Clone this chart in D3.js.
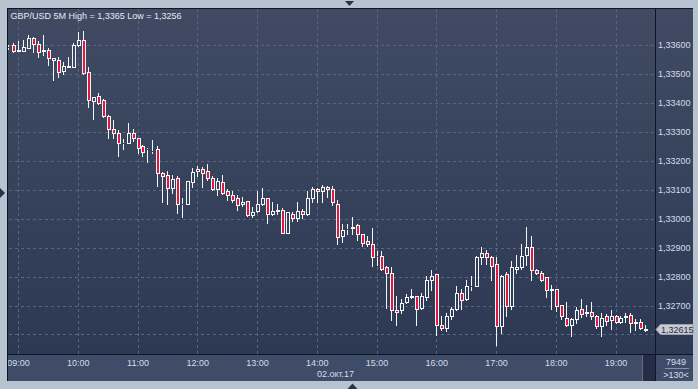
<!DOCTYPE html>
<html>
<head>
<meta charset="utf-8">
<script src="https://cdn.jsdelivr.net/npm/d3@7"></script>
<style>
  html, body { margin: 0; padding: 0; background: #b8c3d2; }
  svg { display: block; font-family: "Liberation Sans", Arial, sans-serif; }
</style>
</head>
<body>
<div id="chart"></div>
<script>
const TITLE = "GBP/USD 5M High = 1,3365 Low = 1,3256";
const BAR_START = "2017-10-02T08:50:00";
const BAR_MINUTES = 5;

// OHLC of the 5 minute bars
const OPEN = [
  1.33592,1.33599,1.33580,1.33580,1.33589,1.33623,1.33603,1.33578,1.33583,1.33554,
  1.33548,1.33511,1.33525,1.33525,1.33600,1.33617,1.33508,1.33408,1.33424,1.33410,
  1.33355,1.33309,1.33295,1.33261,1.33263,1.33297,1.33278,1.33252,1.33239,1.33233,
  1.33240,1.33159,1.33151,1.33106,1.33140,1.33050,1.33051,1.33128,1.33163,1.33171,
  1.33165,1.33140,1.33102,1.33126,1.33096,1.33081,1.33071,1.33051,1.33062,1.33012,
  1.33025,1.33050,1.33071,1.33016,1.33027,1.33031,1.32950,1.33016,1.33004,1.33027,
  1.33016,1.33071,1.33102,1.33094,1.33109,1.33102,1.33050,1.32939,1.32963,1.32968,
  1.32979,1.32947,1.32924,1.32912,1.32870,1.32872,1.32833,1.32812,1.32686,1.32686,
  1.32711,1.32730,1.32732,1.32692,1.32730,1.32789,1.32809,1.32634,1.32623,1.32665,
  1.32688,1.32743,1.32721,1.32766,1.32769,1.32868,1.32881,1.32868,1.32843,1.32628,
  1.32809,1.32700,1.32826,1.32833,1.32875,1.32902,1.32824,1.32812,1.32799,1.32755,
  1.32757,1.32701,1.32657,1.32631,1.32654,1.32688,1.32674,1.32676,1.32663,1.32628,
  1.32663,1.32651,1.32663,1.32642,1.32661,1.32667,1.32640,1.32642,1.32620
];
const HIGH = [
  1.33600,1.33606,1.33614,1.33617,1.33635,1.33629,1.33615,1.33635,1.33589,1.33555,
  1.33558,1.33542,1.33560,1.33606,1.33645,1.33650,1.33525,1.33421,1.33434,1.33412,
  1.33358,1.33341,1.33307,1.33275,1.33330,1.33310,1.33280,1.33253,1.33244,1.33272,
  1.33252,1.33160,1.33165,1.33150,1.33148,1.33071,1.33131,1.33175,1.33183,1.33180,
  1.33188,1.33146,1.33142,1.33151,1.33103,1.33096,1.33082,1.33076,1.33062,1.33040,
  1.33096,1.33106,1.33072,1.33059,1.33051,1.33037,1.33024,1.33022,1.33058,1.33032,
  1.33094,1.33111,1.33107,1.33115,1.33112,1.33112,1.33065,1.32982,1.32982,1.33006,
  1.32982,1.32948,1.32941,1.32968,1.32890,1.32890,1.32835,1.32833,1.32732,1.32723,
  1.32741,1.32757,1.32734,1.32743,1.32803,1.32824,1.32810,1.32663,1.32674,1.32695,
  1.32769,1.32757,1.32789,1.32803,1.32870,1.32902,1.32893,1.32872,1.32868,1.32804,
  1.32815,1.32855,1.32875,1.32913,1.32970,1.32941,1.32826,1.32818,1.32800,1.32772,
  1.32758,1.32702,1.32712,1.32657,1.32695,1.32723,1.32703,1.32711,1.32668,1.32674,
  1.32672,1.32686,1.32668,1.32663,1.32674,1.32674,1.32654,1.32655,1.32634
];
const LOW = [
  1.33586,1.33576,1.33579,1.33579,1.33588,1.33577,1.33558,1.33565,1.33531,1.33479,
  1.33491,1.33500,1.33523,1.33524,1.33597,1.33501,1.33387,1.33343,1.33396,1.33351,
  1.33278,1.33278,1.33217,1.33240,1.33261,1.33270,1.33228,1.33215,1.33197,1.33228,
  1.33114,1.33056,1.33050,1.33090,1.33021,1.33006,1.33050,1.33109,1.33146,1.33109,
  1.33134,1.33100,1.33082,1.33085,1.33065,1.33056,1.33031,1.33045,1.33010,1.33006,
  1.33022,1.33048,1.32985,1.33013,1.33015,1.32949,1.32949,1.32993,1.32992,1.33002,
  1.33014,1.33059,1.33059,1.33059,1.33076,1.33048,1.32913,1.32921,1.32948,1.32948,
  1.32925,1.32904,1.32904,1.32835,1.32841,1.32824,1.32692,1.32651,1.32632,1.32674,
  1.32709,1.32726,1.32632,1.32688,1.32720,1.32755,1.32597,1.32617,1.32611,1.32654,
  1.32686,1.32688,1.32718,1.32755,1.32766,1.32844,1.32844,1.32787,1.32562,1.32605,
  1.32665,1.32688,1.32814,1.32826,1.32841,1.32789,1.32810,1.32783,1.32730,1.32688,
  1.32680,1.32654,1.32629,1.32594,1.32640,1.32661,1.32663,1.32654,1.32623,1.32596,
  1.32631,1.32619,1.32640,1.32640,1.32642,1.32607,1.32617,1.32619,1.32611
];
const CLOSE = [
  1.33592,1.33580,1.33583,1.33592,1.33623,1.33603,1.33577,1.33583,1.33554,1.33547,
  1.33508,1.33528,1.33527,1.33600,1.33617,1.33502,1.33410,1.33420,1.33401,1.33353,
  1.33309,1.33295,1.33261,1.33263,1.33295,1.33278,1.33244,1.33232,1.33240,1.33235,
  1.33159,1.33146,1.33106,1.33137,1.33051,1.33052,1.33131,1.33161,1.33171,1.33159,
  1.33140,1.33102,1.33131,1.33090,1.33082,1.33065,1.33048,1.33058,1.33012,1.33023,
  1.33051,1.33071,1.33017,1.33027,1.33029,1.32950,1.33023,1.33002,1.33027,1.33016,
  1.33071,1.33102,1.33094,1.33109,1.33102,1.33057,1.32935,1.32962,1.32966,1.32971,
  1.32947,1.32916,1.32912,1.32868,1.32872,1.32826,1.32812,1.32686,1.32676,1.32709,
  1.32730,1.32732,1.32688,1.32732,1.32789,1.32803,1.32632,1.32623,1.32665,1.32688,
  1.32743,1.32720,1.32766,1.32769,1.32868,1.32881,1.32868,1.32835,1.32628,1.32803,
  1.32700,1.32833,1.32833,1.32872,1.32902,1.32824,1.32812,1.32789,1.32755,1.32757,
  1.32700,1.32663,1.32631,1.32654,1.32686,1.32672,1.32676,1.32663,1.32628,1.32657,
  1.32645,1.32663,1.32642,1.32657,1.32663,1.32640,1.32642,1.32623,1.32615
];

const GRID_PRICES = [1.326, 1.327, 1.328, 1.329, 1.330, 1.331, 1.332, 1.333, 1.334, 1.335, 1.336];
// 1,32600 sits behind the last-price tag, so it gets no label
const LABEL_PRICES = [1.327, 1.328, 1.329, 1.330, 1.331, 1.332, 1.333, 1.334, 1.335, 1.336];
const HOUR_TICKS = ["09:00","10:00","11:00","12:00","13:00","14:00","15:00","16:00","17:00","18:00","19:00"];
const DATE_LABEL = "02.окт.17";
const LAST_PRICE = 1.32615;
const PANEL_TEXT = ["7949", ">130<"];

const W = 698, H = 389;
const frameLeft = 8, frameTop = 8, plotRight = 655, plotBottom = 354, panelRight = 693, stripBottom = 381;

const day = BAR_START.slice(0, 10);
const t0 = new Date(BAR_START);
const hourDate = s => new Date(`${day}T${s}:00`);

const bars = OPEN.map((o, i) => ({
  t: new Date(t0.getTime() + i * BAR_MINUTES * 60000),
  o, h: HIGH[i], l: LOW[i], c: CLOSE[i]
}));

const x = d3.scaleTime()
  .domain([hourDate("09:00"), hourDate("19:00")])
  .range([18, 615.5]);

const y = d3.scaleLinear()
  .domain([1.327, 1.336])
  .range([305.5, 45]);

const fmtPrice = p => d3.format(".5f")(p).replace(".", ",");

const svg = d3.select("#chart").append("svg")
  .attr("width", W)
  .attr("height", H);

const defs = svg.append("defs");
const grad = defs.append("linearGradient")
  .attr("id", "bg").attr("x1", 0).attr("y1", 0).attr("x2", 0).attr("y2", 1);
grad.append("stop").attr("offset", "0%").attr("stop-color", "#404b63");
grad.append("stop").attr("offset", "100%").attr("stop-color", "#2d3953");

defs.append("clipPath").attr("id", "plotClip")
  .append("rect")
  .attr("x", frameLeft).attr("y", frameTop + 1)
  .attr("width", plotRight - frameLeft).attr("height", plotBottom - frameTop - 1);

// outer frame
svg.append("rect").attr("width", W).attr("height", H).attr("fill", "#b8c3d2");

// chart + price panel background
svg.append("rect")
  .attr("x", frameLeft).attr("y", frameTop)
  .attr("width", panelRight - frameLeft).attr("height", plotBottom - frameTop)
  .attr("fill", "url(#bg)");

// time strip
svg.append("rect")
  .attr("x", frameLeft).attr("y", plotBottom)
  .attr("width", panelRight - frameLeft).attr("height", stripBottom - plotBottom)
  .attr("fill", "#3e4c67");

// scroll thumb
svg.append("rect")
  .attr("x", 642).attr("y", plotBottom + 1)
  .attr("width", 13).attr("height", stripBottom - plotBottom - 1)
  .attr("fill", "#232e46");
svg.append("line")
  .attr("x1", 642.5).attr("x2", 642.5)
  .attr("y1", plotBottom + 1).attr("y2", stripBottom)
  .attr("stroke", "#5d6a83");

// grid
const grid = svg.append("g")
  .attr("stroke", "#58667f")
  .attr("stroke-dasharray", "3,3")
  .attr("shape-rendering", "crispEdges");

grid.selectAll(".hg")
  .data(GRID_PRICES)
  .join("line")
    .attr("x1", frameLeft + 1).attr("x2", plotRight)
    .attr("y1", d => Math.round(y(d)) + 0.5)
    .attr("y2", d => Math.round(y(d)) + 0.5);

grid.selectAll(".vg")
  .data(HOUR_TICKS)
  .join("line")
    .attr("x1", d => Math.round(x(hourDate(d))) + 0.5)
    .attr("x2", d => Math.round(x(hourDate(d))) + 0.5)
    .attr("y1", frameTop + 1).attr("y2", plotBottom);

// candles
const candles = svg.append("g")
  .attr("clip-path", "url(#plotClip)")
  .attr("shape-rendering", "crispEdges");

const wickColor = "#f3f5f9";

bars.forEach(d => {
  const px = Math.round(x(d.t));
  const yTop = Math.round(y(Math.max(d.o, d.c)));
  const yBot = Math.round(y(Math.min(d.o, d.c)));
  const yH = Math.round(y(d.h));
  const yL = Math.round(y(d.l));

  if (yH < yTop) {
    candles.append("line")
      .attr("x1", px + 0.5).attr("x2", px + 0.5)
      .attr("y1", yH).attr("y2", yTop)
      .attr("stroke", wickColor);
  }
  if (yL > yBot) {
    candles.append("line")
      .attr("x1", px + 0.5).attr("x2", px + 0.5)
      .attr("y1", yBot + 1).attr("y2", yL + 1)
      .attr("stroke", wickColor);
  }
  candles.append("rect")
    .attr("x", px - 0.5)
    .attr("y", yTop + 0.5)
    .attr("width", 3)
    .attr("height", yBot - yTop)
    .attr("fill", d.c < d.o ? "#e2173c" : "none")
    .attr("stroke", wickColor);
});

// price axis
svg.append("g")
  .attr("transform", `translate(${plotRight},0)`)
  .call(d3.axisRight(y).tickValues(LABEL_PRICES).tickFormat(fmtPrice).tickSize(0).tickPadding(3))
  .call(ax => ax.select(".domain").remove())
  .call(ax => ax.selectAll("text")
    .attr("font-size", 9)
    .attr("font-family", "'Liberation Sans', Arial, sans-serif")
    .attr("fill", "#d3dcec"));

// time axis
svg.append("g")
  .attr("transform", `translate(0,${plotBottom})`)
  .call(d3.axisBottom(x)
    .tickValues(HOUR_TICKS.map(hourDate))
    .tickFormat(d3.timeFormat("%H:%M"))
    .tickSize(0))
  .call(ax => ax.select(".domain").remove())
  .call(ax => ax.selectAll("text")
    .attr("y", 12).attr("dy", 0)
    .attr("font-size", 9)
    .attr("font-family", "'Liberation Sans', Arial, sans-serif")
    .attr("fill", "#d3dcec"));

// cover the strip left of the chart frame (cuts "09:00")
svg.append("rect")
  .attr("x", 0).attr("y", frameTop).attr("width", frameLeft - 0.5).attr("height", stripBottom - frameTop)
  .attr("fill", "#b8c3d2");

svg.append("text")
  .attr("x", 335.5).attr("y", 376.5)
  .attr("text-anchor", "middle")
  .attr("font-size", 9)
  .attr("fill", "#d3dcec")
  .text(DATE_LABEL);

// right bottom box
svg.append("text")
  .attr("x", 676).attr("y", 365)
  .attr("text-anchor", "middle")
  .attr("font-size", 9)
  .attr("fill", "#d3dcec")
  .text(PANEL_TEXT[0]);
svg.append("line")
  .attr("x1", 665).attr("x2", 689)
  .attr("y1", 368.5).attr("y2", 368.5)
  .attr("stroke", "#8592aa");
svg.append("text")
  .attr("x", 676).attr("y", 377.5)
  .attr("text-anchor", "middle")
  .attr("font-size", 9)
  .attr("fill", "#d3dcec")
  .text(PANEL_TEXT[1]);

// frame lines
const frame = svg.append("g").attr("stroke", "#0e1626").attr("shape-rendering", "crispEdges");
frame.append("line").attr("x1", frameLeft - 1).attr("x2", panelRight).attr("y1", frameTop + 0.5).attr("y2", frameTop + 0.5);
frame.append("line").attr("x1", frameLeft - 0.5).attr("x2", frameLeft - 0.5).attr("y1", frameTop).attr("y2", stripBottom);
frame.append("line").attr("x1", plotRight + 0.5).attr("x2", plotRight + 0.5).attr("y1", frameTop).attr("y2", stripBottom)
  .attr("stroke-width", 1.5);
frame.append("line").attr("x1", frameLeft).attr("x2", panelRight).attr("y1", plotBottom + 0.5).attr("y2", plotBottom + 0.5);

// last price tag
const yp = Math.round(y(LAST_PRICE)) - 0.5;
svg.append("path")
  .attr("d", `M656,${yp} L660.5,${yp - 5} L693,${yp - 5} L693,${yp + 5} L660.5,${yp + 5} Z`)
  .attr("fill", "#c6cbd3")
  .attr("stroke", "#9aa3b2");
svg.append("text")
  .attr("x", 661).attr("y", yp + 3.5)
  .attr("font-size", 9)
  .attr("fill", "#2a2f38")
  .text(fmtPrice(LAST_PRICE));

// header
svg.append("text")
  .attr("x", 10.5).attr("y", 18.5)
  .attr("font-size", 9)
  .attr("fill", "#e3e8f0")
  .text(TITLE);

// little arrows on the window frame
const arrowColor = "#243350";
svg.append("path").attr("d", "M345,1 L354,1 L349.5,6 Z").attr("fill", arrowColor);
svg.append("path").attr("d", "M0,188 L0,198 L5,193 Z").attr("fill", arrowColor);
svg.append("path").attr("d", "M347.5,389 L357.5,389 L352.5,383.5 Z").attr("fill", arrowColor);
</script>
</body>
</html>
